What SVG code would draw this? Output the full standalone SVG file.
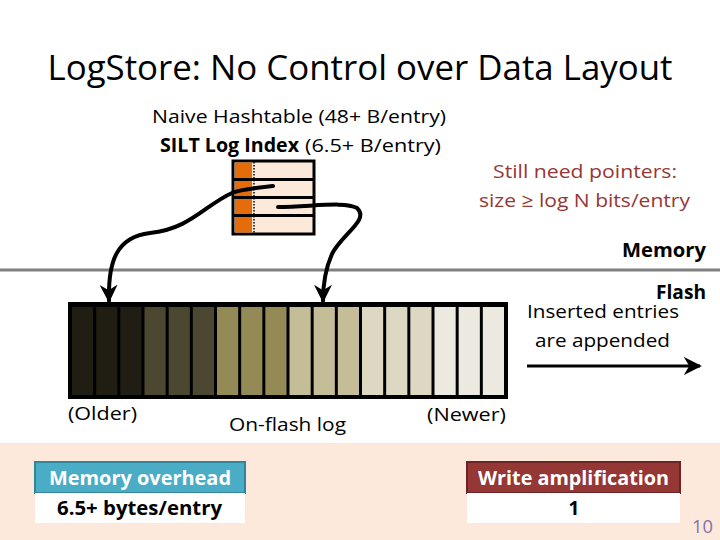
<svg xmlns="http://www.w3.org/2000/svg" width="720" height="540" viewBox="0 0 720 540">
<style>
text{font-family:"Open Sans","Liberation Sans",sans-serif;fill:#000}
.b{font-weight:bold}
.t20{font-size:19px}
.red{fill:#953735}
.cell{stroke:none}
.ptr{fill:none;stroke:#000;stroke-width:4;stroke-linecap:round}
</style>
<defs>
<marker id="ah" markerUnits="userSpaceOnUse" markerWidth="18" markerHeight="18" viewBox="0 0 10 10" refX="9" refY="5" orient="auto">
<path d="M0,0 L10,5 L0,10 L3,5 z" fill="#000"/>
</marker>
</defs>
<rect width="720" height="540" fill="#fff"/>
<rect x="0" y="443" width="720" height="97" fill="#FCE9DB"/>

<text x="360" y="80" font-size="35" text-anchor="middle" textLength="625" lengthAdjust="spacingAndGlyphs">LogStore: No Control over Data Layout</text>

<g id="labels-top">
<text class="t20" x="152" y="123" textLength="294" lengthAdjust="spacingAndGlyphs">Naive Hashtable (48+ B/entry)</text>
<text class="t20 b" x="160" y="152" textLength="139" lengthAdjust="spacingAndGlyphs">SILT Log Index</text>
<text class="t20" x="305" y="152" textLength="136" lengthAdjust="spacingAndGlyphs">(6.5+ B/entry)</text>
</g>

<g id="note">
<text class="t20 red" x="493" y="178" textLength="184" lengthAdjust="spacingAndGlyphs">Still need pointers:</text>
<text class="t20 red" x="479" y="207" textLength="211" lengthAdjust="spacingAndGlyphs">size ≥ log N bits/entry</text>
</g>

<line x1="0" y1="270" x2="720" y2="270" stroke="#808080" stroke-width="3"/>
<text class="t20 b" x="706" y="257" text-anchor="end" textLength="84" lengthAdjust="spacingAndGlyphs">Memory</text>
<text class="t20 b" x="706" y="299" text-anchor="end" textLength="50" lengthAdjust="spacingAndGlyphs">Flash</text>

<g id="hashtable">
<rect x="233" y="161" width="81" height="73" fill="#FDE9D9" stroke="#000" stroke-width="3"/>
<rect x="235" y="162.5" width="17" height="70" fill="#E46C0A"/>
<line x1="233" y1="179.5" x2="314" y2="179.5" stroke="#000" stroke-width="3"/>
<line x1="233" y1="197.5" x2="314" y2="197.5" stroke="#000" stroke-width="3"/>
<line x1="233" y1="215.5" x2="314" y2="215.5" stroke="#000" stroke-width="3"/>
<line x1="254" y1="162" x2="254" y2="233" stroke="#000" stroke-width="1.5" stroke-dasharray="1.5,1.5"/>
</g>

<g id="log">
<rect x="68" y="302" width="440" height="97" fill="#000"/>
<g class="cell">
<rect x="72" y="307" width="21.17" height="88" fill="#201E12"/>
<rect x="96.17" y="307" width="21.17" height="88" fill="#201E12"/>
<rect x="120.33" y="307" width="21.17" height="88" fill="#201E12"/>
<rect x="144.5" y="307" width="21.17" height="88" fill="#4C4730"/>
<rect x="168.67" y="307" width="21.17" height="88" fill="#4C4730"/>
<rect x="192.83" y="307" width="21.17" height="88" fill="#4C4730"/>
<rect x="217" y="307" width="21.17" height="88" fill="#948A56"/>
<rect x="241.17" y="307" width="21.17" height="88" fill="#948A56"/>
<rect x="265.33" y="307" width="21.17" height="88" fill="#948A56"/>
<rect x="289.5" y="307" width="21.17" height="88" fill="#C5BD98"/>
<rect x="313.67" y="307" width="21.17" height="88" fill="#C5BD98"/>
<rect x="337.83" y="307" width="21.17" height="88" fill="#C5BD98"/>
<rect x="362" y="307" width="21.17" height="88" fill="#DCD8C2"/>
<rect x="386.17" y="307" width="21.17" height="88" fill="#DCD8C2"/>
<rect x="410.33" y="307" width="21.17" height="88" fill="#DCD8C2"/>
<rect x="434.5" y="307" width="21.17" height="88" fill="#ECEAE0"/>
<rect x="458.67" y="307" width="21.17" height="88" fill="#ECEAE0"/>
<rect x="482.83" y="307" width="21.17" height="88" fill="#ECEAE0"/>
</g>
<text class="t20" x="68" y="420" textLength="69" lengthAdjust="spacingAndGlyphs">(Older)</text>
<text class="t20" x="229" y="431" textLength="117" lengthAdjust="spacingAndGlyphs">On-flash log</text>
<text class="t20" x="427" y="421" textLength="79" lengthAdjust="spacingAndGlyphs">(Newer)</text>
</g>

<g id="append">
<text class="t20" x="527" y="318" textLength="152" lengthAdjust="spacingAndGlyphs">Inserted entries</text>
<text class="t20" x="535" y="347" textLength="135" lengthAdjust="spacingAndGlyphs">are appended</text>
</g>

<g id="connectors">
<path class="ptr" d="M273,186 C255,188 242,189 232,193 C205,205 190,229 150,233 C116,237 108,262 109,301" marker-end="url(#ah)"/>
<path class="ptr" d="M278,207 C310,207 345,201 357,208 C370,220 342,234 332,254 C324,272 323,288 323,301" marker-end="url(#ah)"/>
<line x1="527" y1="366" x2="700" y2="366" stroke="#000" stroke-width="3" marker-end="url(#ah)"/>
</g>

<g id="mem-overhead">
<rect x="35" y="462" width="210" height="31" fill="#4BACC6" stroke="#31859C" stroke-width="2"/>
<rect x="35" y="493" width="210" height="30" fill="#fff"/>
<text class="t20 b" x="49" y="485" textLength="182" lengthAdjust="spacingAndGlyphs" style="fill:#fff">Memory overhead</text>
<text class="t20 b" x="57" y="515" textLength="165" lengthAdjust="spacingAndGlyphs">6.5+ bytes/entry</text>
</g>

<g id="write-amp">
<rect x="467" y="462" width="213" height="31" fill="#953735" stroke="#6B2524" stroke-width="2"/>
<rect x="467" y="493" width="213" height="30" fill="#fff"/>
<text class="t20 b" x="478" y="485" textLength="191" lengthAdjust="spacingAndGlyphs" style="fill:#fff">Write amplification</text>
<text class="t20 b" x="574" y="515" text-anchor="middle">1</text>
</g>

<text x="713" y="533" font-size="19" text-anchor="end" textLength="21" lengthAdjust="spacingAndGlyphs" style="fill:#8472A6">10</text>
</svg>
